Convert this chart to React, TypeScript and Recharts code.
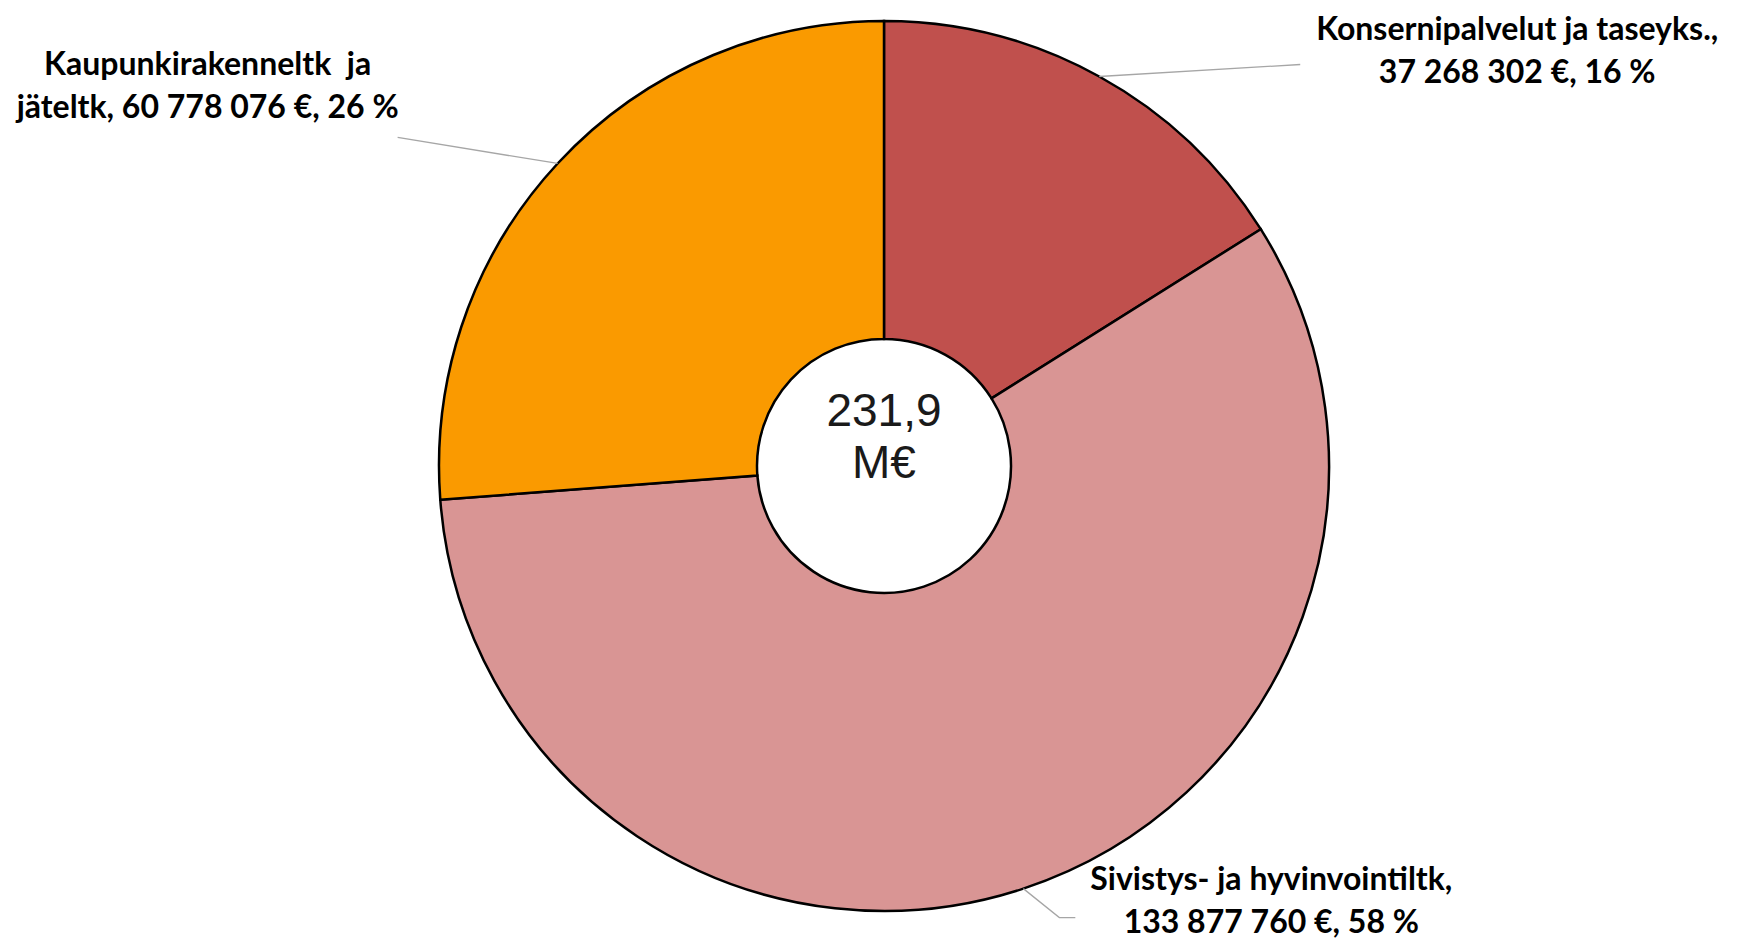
import { PieChart, Pie, Cell } from "recharts";

/* ================= DATA ================= */
const categories = [
  "Konsernipalvelut ja taseyks.",
  "Sivistys- ja hyvinvointiltk",
  "Kaupunkirakenneltk ja jäteltk",
];
const amounts = [37268302, 133877760, 60778076];
const labelTop = [
  "Konsernipalvelut ja taseyks.,",
  "Sivistys- ja hyvinvointiltk,",
  "Kaupunkirakenneltk  ja",
];
const labelBottomPrefix = ["", "", "jäteltk, "];
const totalLines = ["231,9", "M€"];

const colors = ["#C0504D", "#D99594", "#FA9A00"];

const data = categories.map((name, i) => ({ name, value: amounts[i] }));

/* ================= LABEL LAYOUT ================= */
const CX = 884;
const CY = 466;
// offsets from the point on the outer edge at the slice's mid angle
const layout = [
  { line: [[201, -12]], text: [418, -50] },
  { line: [[36, 29], [52, 29]], text: [248, -12] },
  { line: [[-160, -26]], text: [-350, -101] },
];
const LINE_GAP = 43;
const RADIAN = Math.PI / 180;

const fmt = (v: number) => String(v).replace(/\B(?=(\d{3})+(?!\d))/g, " ");

function renderLabel(props: any) {
  const { cx, cy, midAngle, outerRadius, index, percent, value } = props;
  const sx = cx + outerRadius * Math.cos(-midAngle * RADIAN);
  const sy = cy + outerRadius * Math.sin(-midAngle * RADIAN);
  const l = layout[index];
  const pts = [[sx, sy], ...l.line.map(([dx, dy]) => [sx + dx, sy + dy])];
  const tx = sx + l.text[0];
  const ty = sy + l.text[1];
  return (
    <g key={`lbl-${index}`}>
      <polyline
        points={pts.map((p) => p.join(",")).join(" ")}
        fill="none"
        stroke="#A6A6A6"
        strokeWidth={1.3}
      />
      <text
        x={tx}
        y={ty}
        textAnchor="middle"
        dominantBaseline="central"
        fontFamily="Lato, 'Noto Sans', sans-serif"
        fontWeight={700}
        fontSize={32}
        fill="#000"
        style={{ whiteSpace: "pre" }}
      >
        <tspan x={tx} y={ty}>
          {labelTop[index]}
        </tspan>
        <tspan x={tx} y={ty + LINE_GAP}>
          {`${labelBottomPrefix[index]}${fmt(value)} €, ${Math.round(percent * 100)} %`}
        </tspan>
      </text>
    </g>
  );
}

/* ================= COMPONENT ================= */
export default function App() {
  return (
    <div style={{ position: "absolute", left: 0, top: 0, background: "#fff" }}>
      <PieChart width={1747} height={943} margin={{ top: 0, right: 0, bottom: 0, left: 0 }}>
        <Pie
          data={data}
          dataKey="value"
          nameKey="name"
          cx={CX}
          cy={CY}
          innerRadius={127}
          outerRadius={445}
          startAngle={90}
          endAngle={-270}
          stroke="#000"
          strokeWidth={2.5}
          label={renderLabel}
          labelLine={false}
          isAnimationActive={false}
        >
          {data.map((d, i) => (
            <Cell key={d.name} fill={colors[i]} />
          ))}
        </Pie>
        <text
          textAnchor="middle"
          dominantBaseline="central"
          fontFamily="'Liberation Sans', Arial, sans-serif"
          fontSize={46}
          fill="#1a1a1a"
        >
          <tspan x={CX} y={CY - 56}>
            {totalLines[0]}
          </tspan>
          <tspan x={CX} y={CY - 4}>
            {totalLines[1]}
          </tspan>
        </text>
      </PieChart>
    </div>
  );
}
